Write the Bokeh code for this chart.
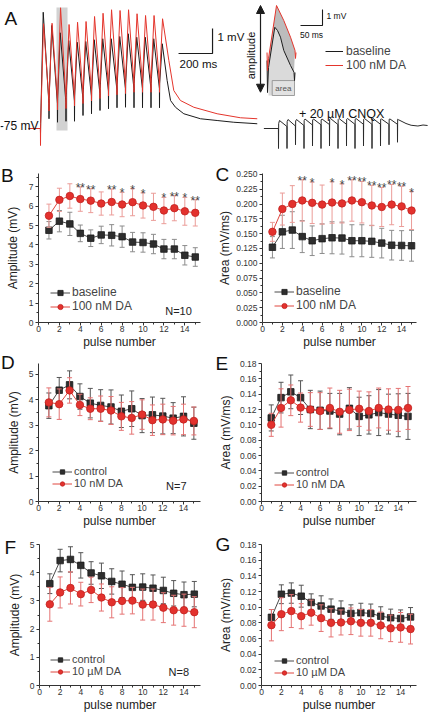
import numpy as np
from bokeh.plotting import figure
from bokeh.models import (Range1d, FixedTicker, PrintfTickFormatter, Label, Legend,
                          LegendItem, Arrow, NormalHead)
from bokeh.layouts import column, row
from bokeh.embed import file_html
from bokeh.resources import INLINE
from bokeh.core.properties import value

FONT = "Liberation Sans"

# ---------------- shared categories / ticks ----------------
pulse = [1, 2, 3, 4, 5, 6, 7, 8, 9, 10, 11, 12, 13, 14, 15]
x_ticks = [0, 2, 4, 6, 8, 10, 12, 14]
x_minor = [1, 3, 5, 7, 9, 11, 13, 15]

# ---------------- panel B: amplitude, baseline vs 100 nM DA ----------------
B_base_mean = [4.76, 5.23, 5.09, 4.60, 4.35, 4.52, 4.50, 4.43, 4.15, 4.13, 4.05, 3.79, 3.79, 3.47, 3.38]
B_base_sem = [0.45, 0.55, 0.60, 0.43, 0.43, 0.45, 0.55, 0.55, 0.50, 0.50, 0.50, 0.50, 0.50, 0.50, 0.48]
B_da_mean = [5.51, 6.33, 6.53, 6.37, 6.29, 6.14, 6.22, 6.09, 6.21, 6.04, 5.97, 5.78, 5.90, 5.74, 5.66]
B_da_sem = [0.60, 0.60, 0.63, 0.63, 0.62, 0.60, 0.67, 0.63, 0.70, 0.65, 0.70, 0.68, 0.65, 0.72, 0.68]
B_stars = ["", "", "", "**", "**", "", "**", "*", "*", "*", "", "*", "**", "*", "**"]
B_yticks = [0, 1, 2, 3, 4, 5, 6, 7]
B_yminor = [0.5, 1.5, 2.5, 3.5, 4.5, 5.5, 6.5, 7.5]

# ---------------- panel C: area, baseline vs 100 nM DA ----------------
C_base_mean = [0.127, 0.153, 0.156, 0.145, 0.138, 0.1415, 0.143, 0.1425, 0.138, 0.138, 0.137, 0.134, 0.1305, 0.130, 0.1295]
C_base_sem = [0.018, 0.028, 0.031, 0.027, 0.025, 0.025, 0.027, 0.027, 0.027, 0.027, 0.027, 0.025, 0.025, 0.025, 0.026]
C_da_mean = [0.153, 0.1915, 0.200, 0.206, 0.202, 0.199, 0.2025, 0.201, 0.206, 0.203, 0.1975, 0.195, 0.199, 0.196, 0.189]
C_da_sem = [0.016, 0.027, 0.031, 0.035, 0.035, 0.033, 0.035, 0.033, 0.035, 0.035, 0.034, 0.033, 0.034, 0.034, 0.032]
C_stars = ["", "", "", "**", "*", "", "*", "*", "**", "**", "**", "**", "**", "**", "*"]
C_yticks = [0.0, 0.025, 0.05, 0.075, 0.1, 0.125, 0.15, 0.175, 0.2, 0.225, 0.25]
C_yminor = [0.0125, 0.0375, 0.0625, 0.0875, 0.1125, 0.1375, 0.1625, 0.1875, 0.2125, 0.2375]

# ---------------- panel D: amplitude, control vs 10 nM DA ----------------
D_ctrl_mean = [3.77, 4.38, 4.59, 4.13, 3.87, 3.78, 3.72, 3.55, 3.65, 3.38, 3.41, 3.36, 3.28, 3.35, 3.08]
D_ctrl_sem = [0.50, 0.50, 0.55, 0.50, 0.58, 0.62, 0.67, 0.64, 0.70, 0.67, 0.70, 0.70, 0.61, 0.77, 0.63]
D_da_mean = [3.90, 3.83, 4.37, 3.80, 3.65, 3.65, 3.58, 3.35, 3.29, 3.42, 3.20, 3.23, 3.18, 3.23, 3.17]
D_da_sem = [0.57, 0.60, 0.50, 0.42, 0.43, 0.50, 0.55, 0.55, 0.64, 0.58, 0.60, 0.60, 0.56, 0.60, 0.55]
D_yticks = [0, 1, 2, 3, 4, 5]
D_yminor = [0.5, 1.5, 2.5, 3.5, 4.5]

# ---------------- panel E: area, control vs 10 nM DA ----------------
E_ctrl_mean = [0.109, 0.1355, 0.143, 0.1355, 0.120, 0.119, 0.118, 0.114, 0.1215, 0.111, 0.113, 0.116, 0.114, 0.1125, 0.111]
E_ctrl_sem = [0.017, 0.020, 0.022, 0.022, 0.025, 0.025, 0.023, 0.027, 0.027, 0.025, 0.025, 0.030, 0.026, 0.028, 0.030]
E_da_mean = [0.100, 0.122, 0.132, 0.1225, 0.120, 0.118, 0.122, 0.117, 0.1195, 0.121, 0.118, 0.122, 0.120, 0.1195, 0.122]
E_da_sem = [0.015, 0.025, 0.020, 0.019, 0.022, 0.024, 0.026, 0.028, 0.027, 0.023, 0.025, 0.026, 0.027, 0.028, 0.028]
EG_yticks = [0.0, 0.02, 0.04, 0.06, 0.08, 0.1, 0.12, 0.14, 0.16, 0.18]
EG_yminor = [0.01, 0.03, 0.05, 0.07, 0.09, 0.11, 0.13, 0.15, 0.17]

# ---------------- panel F: amplitude, control vs 10 uM DA ----------------
F_ctrl_mean = [3.61, 4.43, 4.47, 4.26, 3.99, 3.89, 3.69, 3.59, 3.48, 3.49, 3.45, 3.37, 3.27, 3.22, 3.24]
F_ctrl_sem = [0.35, 0.40, 0.45, 0.45, 0.40, 0.45, 0.45, 0.47, 0.45, 0.47, 0.47, 0.47, 0.45, 0.45, 0.45]
F_da_mean = [2.88, 3.30, 3.46, 3.24, 3.39, 3.12, 2.95, 3.00, 3.01, 2.87, 2.87, 2.76, 2.67, 2.67, 2.60]
F_da_sem = [0.60, 0.55, 0.57, 0.42, 0.45, 0.48, 0.55, 0.47, 0.47, 0.55, 0.55, 0.53, 0.53, 0.57, 0.55]

# ---------------- panel G: area, control vs 10 uM DA ----------------
G_ctrl_mean = [0.087, 0.1165, 0.118, 0.114, 0.106, 0.1015, 0.0975, 0.095, 0.092, 0.093, 0.092, 0.0885, 0.0865, 0.0855, 0.0875]
G_ctrl_sem = [0.010, 0.012, 0.013, 0.014, 0.011, 0.013, 0.013, 0.013, 0.011, 0.012, 0.012, 0.012, 0.011, 0.011, 0.012]
G_da_mean = [0.077, 0.091, 0.095, 0.0885, 0.093, 0.086, 0.080, 0.0805, 0.082, 0.080, 0.080, 0.0767, 0.073, 0.0742, 0.072]
G_da_sem = [0.020, 0.021, 0.021, 0.016, 0.016, 0.017, 0.018, 0.016, 0.017, 0.017, 0.017, 0.017, 0.017, 0.019, 0.019]

# ---------------- panel A: example traces (mV relative to -75 mV rest) ----------------
stim_ms = [0, 50, 100, 150, 200, 250, 300, 350, 400, 450, 500, 550, 600, 650, 700]
base_pre_mv = [0.0, 1.0, 1.0, 1.05, 1.1, 1.2, 1.3, 1.4, 1.5, 1.55, 1.6, 1.6, 1.6, 1.6, 1.6]
base_art_mv = [-0.2, 0.39, 0.25, 0.29, 0.29, 0.52, 0.59, 0.72, 0.79, 0.83, 0.85, 0.83, 0.83, 0.83, 0.83]
base_peak_mv = [4.65, 4.12, 3.83, 3.52, 3.45, 3.48, 3.55, 3.59, 3.59, 3.68, 3.79, 3.65, 3.65, 3.59, 3.39]
base_tail_ms = [745, 765, 794, 843, 941, 1039, 1137, 1275]
base_tail_mv = [1.92, 1.12, 0.85, 0.59, 0.39, 0.32, 0.25, 0.19]
da_pre_mv = [0.0, 1.1, 1.15, 1.2, 1.3, 1.4, 1.5, 1.6, 1.7, 1.75, 1.8, 1.85, 1.85, 1.85, 1.85]
da_art_mv = [-0.68, 0.7, 0.75, 0.8, 0.9, 1.0, 1.1, 1.2, 1.3, 1.35, 1.4, 1.45, 1.45, 1.45, 1.45]
da_peak_mv = [4.19, 4.21, 4.83, 4.16, 4.25, 4.28, 4.48, 4.61, 4.75, 4.72, 4.75, 4.59, 4.52, 4.52, 4.39]
da_tail_ms = [755, 784, 823, 902, 1039, 1176, 1275]
da_tail_mv = [2.72, 1.52, 1.12, 0.85, 0.59, 0.43, 0.39]

cnqx_stim_ms = [1400, 1450, 1500, 1550, 1600, 1650, 1700, 1750, 1800, 1850, 1900, 1950, 2000, 2050, 2100]
cnqx_pre_mv = [0.0, 0.08, 0.1, 0.12, 0.14, 0.15, 0.16, 0.16, 0.17, 0.17, 0.17, 0.17, 0.17, 0.17, 0.17]
cnqx_art_mv = [-0.8, -0.8, -0.65, -0.8, -0.7, -0.8, -0.7, -0.8, -0.7, -0.8, -0.7, -0.8, -0.7, -0.65, -0.55]
cnqx_peak_mv = [0.32, 0.36, 0.36, 0.38, 0.38, 0.38, 0.40, 0.40, 0.40, 0.40, 0.40, 0.40, 0.38, 0.38, 0.35]
cnqx_tail_ms = [2150, 2180, 2220, 2250, 2277]
cnqx_tail_mv = [0.2, 0.13, 0.1, 0.14, 0.12]

# inset: one magnified response (ms, mV)
inset_red_ms = [-1.1, 0.0, 2.3, 20.5, 37.0, 52.3, 62.5, 63.6, 64.8]
inset_red_mv = [2.56, 1.44, 2.19, 5.5, 4.56, 3.52, 2.69, 2.19, 2.56]
inset_blk_ms = [-1.1, 0.0, 2.3, 16.6, 22.7, 29.5, 37.0, 52.3, 60.2, 61.4, 62.5]
inset_blk_mv = [2.06, 0.06, 1.63, 4.14, 3.94, 3.52, 2.69, 1.75, 1.33, 0.81, 1.31]

BLACK = "#1c1c1c"
RED = "#e4352c"


def sawtooth(start_t, stims, pre, art, peak, rise, tail_t, tail_v):
    xs, ys = [start_t], [0.0]
    for t, p0, a, pk in zip(stims, pre, art, peak):
        xs += [t - 0.5, t, t + 1.0, t + rise]
        ys += [p0, a, p0 + 0.2, pk]
    return xs + list(tail_t), ys + list(tail_v)


# =============== Panel A ===============
HA = 158
pA = figure(width=431, height=HA, x_range=Range1d(-235.3, 2300), y_range=Range1d(-1.2, 5.12),
            x_axis_location=None, y_axis_location=None, output_backend="svg",
            toolbar_location=None, min_border_left=0, min_border_right=0,
            min_border_top=0, min_border_bottom=0)
pA.outline_line_color = None
pA.grid.visible = False
pA.extra_x_ranges = {"inset": Range1d(-606.8, 372.7)}
pA.extra_y_ranges = {"inset": Range1d(-4.0625, 5.8125)}

pA.quad(left=[stim_ms[2] - 6], right=[stim_ms[3] + 9], bottom=[-0.08], top=[4.84],
        fill_color="#d2d2d2", line_color=None)

bx, by = sawtooth(-70, stim_ms, base_pre_mv, base_art_mv, base_peak_mv, 16, base_tail_ms, base_tail_mv)
dx, dy = sawtooth(-70, stim_ms, da_pre_mv, da_art_mv, da_peak_mv, 18, da_tail_ms, da_tail_mv)
r_base = pA.line(bx, by, line_color=BLACK, line_width=1)
r_da = pA.line(dx, dy, line_color=RED, line_width=1)

cx, cy = sawtooth(1314, cnqx_stim_ms, cnqx_pre_mv, cnqx_art_mv, cnqx_peak_mv, 6, cnqx_tail_ms, cnqx_tail_mv)
pA.line(cx, cy, line_color="#2a2a2a", line_width=1)

# main scale bar (200 ms, 1 mV)
pA.line([812, 1012, 1012], [3.0, 3.0, 4.0], line_color=BLACK, line_width=1.2)
pA.text(x=[1041], y=[3.68], text=["1 mV"], text_font=value(FONT), text_font_size="11.5px",
        text_baseline="middle", text_align="left", text_color="#111")
pA.text(x=[818], y=[2.84], text=["200 ms"], text_font=value(FONT), text_font_size="11.5px",
        text_baseline="top", text_align="left", text_color="#111")
pA.text(x=[-12], y=[0.12], text=["-75 mV"], text_font=value(FONT), text_font_size="12px",
        text_baseline="alphabetic", text_align="right", text_color="#111")
pA.text(x=[1771], y=[0.6], text=["+ 20 \u00b5M CNQX"], text_font=value(FONT), text_font_size="12.5px",
        text_baseline="alphabetic", text_align="center", text_color="#111")

# inset
mid_t = inset_red_ms[2:7] + inset_blk_ms[2:9][::-1]
mid_v = inset_red_mv[2:7] + inset_blk_mv[2:9][::-1]
low_t = inset_blk_ms[2:9] + [inset_blk_ms[8], inset_blk_ms[2]]
low_v = inset_blk_mv[2:9] + [-0.125, -0.125]
pA.patch(low_t, low_v, fill_color="#dadada", line_color=None, x_range_name="inset", y_range_name="inset")
pA.patch(mid_t, mid_v, fill_color="#bcbcbc", line_color=None, x_range_name="inset", y_range_name="inset")
pA.quad(left=[10.7], right=[61.4], bottom=[-0.125], top=[0.81], fill_color="#e2e2e2",
        line_color="#8a8a8a", line_width=0.8, x_range_name="inset", y_range_name="inset")
pA.line(inset_blk_ms, inset_blk_mv, line_color=BLACK, line_width=1, x_range_name="inset", y_range_name="inset")
pA.line(inset_red_ms, inset_red_mv, line_color=RED, line_width=1, x_range_name="inset", y_range_name="inset")
pA.text(x=[36], y=[0.34], text=["area"], text_font=value(FONT), text_font_size="8px",
        text_baseline="middle", text_align="center", text_color="#555",
        x_range_name="inset", y_range_name="inset")
pA.add_layout(Arrow(start=NormalHead(size=8, fill_color=BLACK, line_color=BLACK),
                    end=NormalHead(size=8, fill_color=BLACK, line_color=BLACK),
                    x_start=-15.9, y_start=0.08, x_end=-15.9, y_end=5.5, line_width=1.2,
                    line_color=BLACK, x_range_name="inset", y_range_name="inset"))
pA.text(x=[-38.6], y=[2.375], text=["amplitude"], angle=np.pi / 2, text_font=value(FONT),
        text_font_size="11px", text_baseline="middle", text_align="center", text_color="#111",
        x_range_name="inset", y_range_name="inset")
pA.line([75, 125, 125], [4.25, 4.25, 5.25], line_color=BLACK, line_width=1.1,
        x_range_name="inset", y_range_name="inset")
pA.text(x=[134], y=[4.875], text=["1 mV"], text_font=value(FONT), text_font_size="8.5px",
        text_baseline="middle", text_align="left", text_color="#111",
        x_range_name="inset", y_range_name="inset")
pA.text(x=[100], y=[4.0], text=["50 ms"], text_font=value(FONT), text_font_size="8.5px",
        text_baseline="top", text_align="center", text_color="#111",
        x_range_name="inset", y_range_name="inset")

legA = Legend(items=[LegendItem(label="baseline", renderers=[r_base]),
                     LegendItem(label="100 nM DA", renderers=[r_da])],
              location=(325, 86))
legA.background_fill_alpha = 0
legA.border_line_color = None
legA.label_text_font = FONT
legA.label_text_font_size = "12px"
legA.glyph_width = 18
legA.glyph_height = 12
legA.label_height = 12
legA.spacing = 0
legA.padding = 0
legA.margin = 0
legA.label_standoff = 3
pA.add_layout(legA)
pA.add_layout(Label(x=4, y=HA - 18.3, x_units="screen", y_units="screen", text="A",
                    text_font=FONT, text_font_size="19px", text_baseline="alphabetic",
                    text_color="#111"))


# =============== Panels B-G ===============
def make_panel(geom, xr, yr, yticks, yminor, yfmt, ylabel, ylab_standoff):
    w, h, bl, br, bt, bb = geom
    p = figure(width=w, height=h, x_range=Range1d(*xr), y_range=Range1d(*yr),
               output_backend="svg", toolbar_location=None,
               min_border_left=bl, min_border_right=br, min_border_top=bt, min_border_bottom=bb)
    p.outline_line_color = None
    p.grid.visible = False
    p.xaxis.ticker = FixedTicker(ticks=x_ticks, minor_ticks=x_minor)
    p.yaxis.ticker = FixedTicker(ticks=yticks, minor_ticks=yminor)
    p.yaxis.formatter = PrintfTickFormatter(format=yfmt)
    p.xaxis.axis_label = "pulse number"
    p.yaxis.axis_label = ylabel
    for ax in (p.xaxis[0], p.yaxis[0]):
        ax.axis_line_color = "#333"
        ax.major_tick_line_color = "#333"
        ax.minor_tick_line_color = "#333"
        ax.major_tick_out = 3
        ax.major_tick_in = 0
        ax.minor_tick_out = 2
        ax.minor_tick_in = 0
        ax.major_label_text_font = FONT
        ax.major_label_text_font_size = "8.5px"
        ax.major_label_text_color = "#333"
        ax.axis_label_text_font = FONT
        ax.axis_label_text_font_size = "12px"
        ax.axis_label_text_font_style = "normal"
        ax.axis_label_text_color = "#222"
    p.xaxis.major_label_standoff = 0
    p.xaxis.axis_label_standoff = 0
    p.yaxis.major_label_standoff = 2
    p.yaxis.axis_label_standoff = ylab_standoff
    return p


def add_series(p, mean, sem, kind, err_color):
    lo = [m - s for m, s in zip(mean, sem)]
    hi = [m + s for m, s in zip(mean, sem)]
    p.segment(x0=pulse, y0=lo, x1=pulse, y1=hi, line_color=err_color, line_width=1)
    p.scatter(x=pulse + pulse, y=lo + hi, marker="dash", size=5, line_color=err_color, line_width=1)
    if kind == "base":
        ln = p.line(pulse, mean, line_color="#4a4a4a", line_width=1)
        mk = p.scatter(pulse, mean, marker="square", size=6.5, fill_color="#2e2e2e",
                       line_color="#1a1a1a", line_width=0.8)
    else:
        ln = p.line(pulse, mean, line_color="#e0463e", line_width=1)
        mk = p.scatter(pulse, mean, marker="circle", size=7.5, fill_color="#e3312d",
                       line_color="#c0221f", line_width=0.8)
    return [ln, mk]


def add_legend(p, items, loc, font_size, row_h):
    leg = Legend(items=[LegendItem(label=l, renderers=r) for l, r in items], location=loc)
    leg.background_fill_alpha = 0
    leg.border_line_color = None
    leg.label_text_font = FONT
    leg.label_text_font_size = font_size
    leg.glyph_width = 20
    leg.glyph_height = row_h
    leg.label_height = row_h
    leg.spacing = 0
    leg.padding = 0
    leg.margin = 0
    leg.label_standoff = 2
    p.add_layout(leg)


def add_letter(p, geom, letter, lx, ly):
    # the letter lives in the (otherwise empty) right side panel so it is not clipped
    # by the frame; coordinates are relative to that panel (left = frame right,
    # bottom = frame bottom)
    w, h, bl, br, bt, bb = geom
    sx = lx - (w - br)
    sy = (h - bb) - ly
    p.add_layout(Label(x=sx, y=sy, x_units="screen", y_units="screen", text=letter,
                       text_font=FONT, text_font_size="19px", text_baseline="alphabetic",
                       text_color="#111"), "right")


def add_stars(p, mean, sem, stars):
    xs, ys, ts = [], [], []
    for x, m, s, st in zip(pulse, mean, sem, stars):
        if st:
            xs.append(x)
            ys.append(m + s)
            ts.append(st)
    p.text(x=xs, y=ys, text=ts, text_font=value(FONT), text_font_size="12px", text_align="center",
           text_baseline="alphabetic", text_color="#444", y_offset=1)


def add_n(p, x, y, txt):
    p.text(x=[x], y=[y], text=[txt], text_font=value(FONT), text_font_size="11px",
           text_align="center", text_baseline="middle", text_color="#222")


GREY_ERR = "#8c8c8c"
PINK_ERR = "#eb9c98"
DARK_ERR = "#555555"
RED_ERR = "#e57373"

# B
gB = (215, 193, 38, 15, 15, 26)
pB = make_panel(gB, (0, 15.5), (0, 7.69), B_yticks, B_yminor, "%d", "Amplitude (mV)", 6)
rb = add_series(pB, B_base_mean, B_base_sem, "base", GREY_ERR)
rd = add_series(pB, B_da_mean, B_da_sem, "da", PINK_ERR)
add_stars(pB, B_da_mean, B_da_sem, B_stars)
add_legend(pB, [("baseline", rb), ("100 nM DA", rd)], (12, 9), "12px", 13)
add_n(pB, 13.4, 0.61, "N=10")
add_letter(pB, gB, "B", 0.5, 20.3)

# C
gC = (216, 193, 43, 15, 14, 26)
pC = make_panel(gC, (0, 15.5), (0, 0.2515), C_yticks, C_yminor, "%.3f", "Area (mV/ms)", 1)
rb = add_series(pC, C_base_mean, C_base_sem, "base", GREY_ERR)
rd = add_series(pC, C_da_mean, C_da_sem, "da", PINK_ERR)
add_stars(pC, C_da_mean, C_da_sem, C_stars)
add_legend(pC, [("baseline", rb), ("100 nM DA", rd)], (12, 10), "12px", 13)
add_letter(pC, gC, "C", 0, 18.7)

# D
gD = (215, 179, 38, 15, 12, 26)
pD = make_panel(gD, (0, 15.64), (0, 5.43), D_yticks, D_yminor, "%d", "Amplitude (mV)", 5)
rb = add_series(pD, D_ctrl_mean, D_ctrl_sem, "base", DARK_ERR)
rd = add_series(pD, D_da_mean, D_da_sem, "da", RED_ERR)
add_legend(pD, [("control", rb), ("10 nM DA", rd)], (14, 12), "11px", 11)
add_n(pD, 13.3, 0.62, "N=7")
add_letter(pD, gD, "D", 0.5, 13.5)

# E
gE = (216, 179, 45, 15, 8, 27)
pE = make_panel(gE, (0, 15.87), (0, 0.18), EG_yticks, EG_yminor, "%.2f", "Area (mV/ms)", 4)
rb = add_series(pE, E_ctrl_mean, E_ctrl_sem, "base", DARK_ERR)
rd = add_series(pE, E_da_mean, E_da_sem, "da", RED_ERR)
add_legend(pE, [("control", rb), ("10 nM DA", rd)], (13, 11), "11px", 11)
add_letter(pE, gE, "E", 0, 14)

# F
gF = (215, 188, 39, 15, 13, 33)
pF = make_panel(gF, (0, 15.6), (0, 5.0), D_yticks, D_yminor, "%d", "Amplitude (mV)", 5)
rb = add_series(pF, F_ctrl_mean, F_ctrl_sem, "base", DARK_ERR)
rd = add_series(pF, F_da_mean, F_da_sem, "da", RED_ERR)
add_legend(pF, [("control", rb), ("10 \u00b5M DA", rd)], (11, 8), "11px", 11)
add_n(pF, 13.5, 0.49, "N=8")
add_letter(pF, gF, "F", 4, 16.7)

# G
gG = (216, 188, 45, 15, 14, 32)
pG = make_panel(gG, (0, 15.6), (0, 0.18), EG_yticks, EG_yminor, "%.2f", "Area (mV/ms)", 4)
rb = add_series(pG, G_ctrl_mean, G_ctrl_sem, "base", DARK_ERR)
rd = add_series(pG, G_da_mean, G_da_sem, "da", RED_ERR)
add_legend(pG, [("control", rb), ("10 \u00b5M DA", rd)], (13, 7), "11px", 11)
add_letter(pG, gG, "G", 0, 15)

layout = column(pA, row(pB, pC, spacing=0), row(pD, pE, spacing=0), row(pF, pG, spacing=0), spacing=0)
open("out.html", "w").write(file_html(layout, INLINE))
